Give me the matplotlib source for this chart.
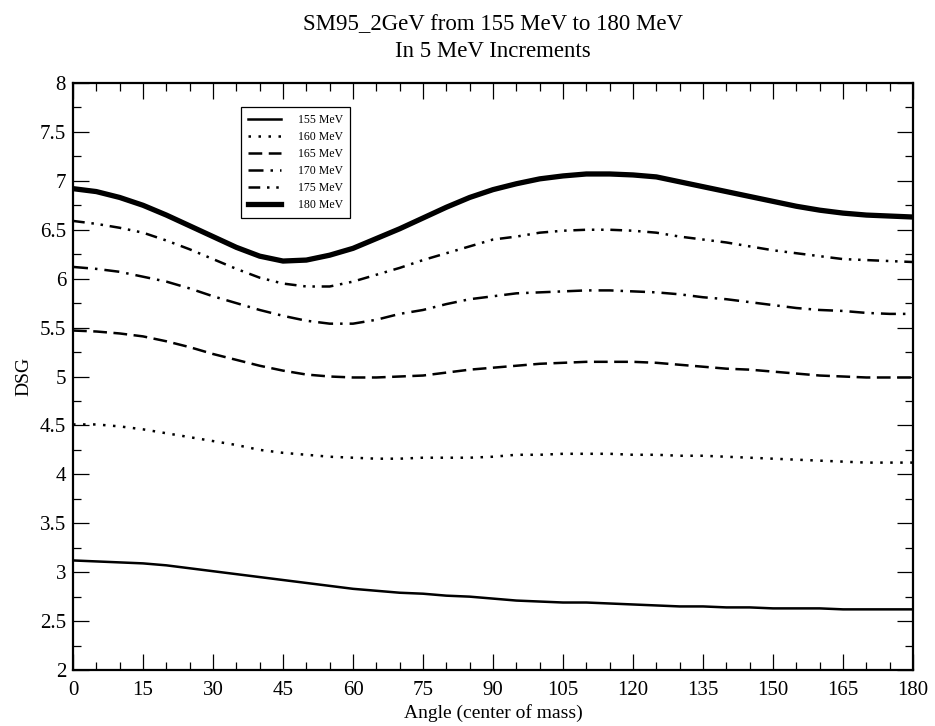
import matplotlib
matplotlib.use("Agg")
import matplotlib.pyplot as plt
from matplotlib.ticker import MultipleLocator, FuncFormatter

plt.rcParams['font.family'] = ['Liberation Serif', 'DejaVu Serif']

angles = [0, 5, 10, 15, 20, 25, 30, 35, 40, 45, 50, 55, 60, 65, 70, 75, 80, 85, 90,
          95, 100, 105, 110, 115, 120, 125, 130, 135, 140, 145, 150, 155, 160, 165,
          170, 175, 180]

dsg_155 = [3.12, 3.11, 3.10, 3.09, 3.07, 3.04, 3.01, 2.98, 2.95, 2.92, 2.89, 2.86, 2.83,
           2.81, 2.79, 2.78, 2.76, 2.75, 2.73, 2.71, 2.70, 2.69, 2.69, 2.68, 2.67, 2.66,
           2.65, 2.65, 2.64, 2.64, 2.63, 2.63, 2.63, 2.62, 2.62, 2.62, 2.62]
dsg_160 = [4.51, 4.51, 4.49, 4.46, 4.42, 4.38, 4.34, 4.30, 4.25, 4.22, 4.20, 4.18, 4.17,
           4.16, 4.16, 4.17, 4.17, 4.17, 4.18, 4.20, 4.20, 4.21, 4.21, 4.21, 4.20, 4.20,
           4.19, 4.19, 4.18, 4.17, 4.16, 4.15, 4.14, 4.13, 4.12, 4.12, 4.12]
dsg_165 = [5.47, 5.46, 5.44, 5.41, 5.36, 5.30, 5.23, 5.17, 5.11, 5.06, 5.02, 5.00, 4.99,
           4.99, 5.00, 5.01, 5.04, 5.07, 5.09, 5.11, 5.13, 5.14, 5.15, 5.15, 5.15, 5.14,
           5.12, 5.10, 5.08, 5.07, 5.05, 5.03, 5.01, 5.00, 4.99, 4.99, 4.99]
dsg_170 = [6.12, 6.10, 6.07, 6.02, 5.97, 5.90, 5.82, 5.75, 5.68, 5.62, 5.57, 5.54, 5.54,
           5.58, 5.64, 5.68, 5.74, 5.79, 5.82, 5.85, 5.86, 5.87, 5.88, 5.88, 5.87, 5.86,
           5.84, 5.81, 5.79, 5.76, 5.73, 5.70, 5.68, 5.67, 5.65, 5.64, 5.64]
dsg_175 = [6.59, 6.56, 6.52, 6.47, 6.39, 6.30, 6.20, 6.10, 6.01, 5.95, 5.92, 5.92, 5.97,
           6.04, 6.11, 6.19, 6.26, 6.33, 6.40, 6.43, 6.47, 6.49, 6.50, 6.50, 6.49, 6.47,
           6.43, 6.40, 6.37, 6.33, 6.29, 6.26, 6.23, 6.20, 6.19, 6.18, 6.17]
dsg_180 = [6.92, 6.89, 6.83, 6.75, 6.65, 6.54, 6.43, 6.32, 6.23, 6.18, 6.19, 6.24, 6.31,
           6.41, 6.51, 6.62, 6.73, 6.83, 6.91, 6.97, 7.02, 7.05, 7.07, 7.07, 7.06, 7.04,
           6.99, 6.94, 6.89, 6.84, 6.79, 6.74, 6.70, 6.67, 6.65, 6.64, 6.63]

labels = ["155 MeV", "160 MeV", "165 MeV", "170 MeV", "175 MeV", "180 MeV"]
series = [dsg_155, dsg_160, dsg_165, dsg_170, dsg_175, dsg_180]
styles = ["-", (0, (1, 3)), (0, (5.5, 2.6)), (0, (6, 2.8, 1, 2.8)),
          (0, (4.7, 2.7, 1, 2.7, 1, 2.7)), "-"]
widths = [1.8, 1.8, 1.8, 1.8, 1.8, 3.8]

fig = plt.figure(figsize=(9.35, 7.26), dpi=100)
ax = fig.add_axes([0.0781, 0.0771, 0.8984, 0.8086])

for y, lab, ls, lw in zip(series, labels, styles, widths):
    ax.plot(angles, y, color="black", linestyle=ls, linewidth=lw, label=lab,
            solid_joinstyle="round")

ax.set_xlim(0, 180)
ax.set_ylim(2, 8)
ax.xaxis.set_major_locator(MultipleLocator(15))
ax.xaxis.set_minor_locator(MultipleLocator(5))
ax.yaxis.set_major_locator(MultipleLocator(0.5))
ax.yaxis.set_minor_locator(MultipleLocator(0.25))
ax.yaxis.set_major_formatter(FuncFormatter(lambda v, p: f"{v:g}"))

ax.tick_params(which="both", direction="in", top=True, right=True, width=0.9, color="black")
ax.tick_params(which="major", length=11.5, labelsize=15)
ax.tick_params(axis="x", which="major", pad=8)
ax.tick_params(axis="y", which="major", pad=5)
ax.tick_params(which="minor", length=5.8)
for s in ax.spines.values():
    s.set_linewidth(1.6)

ax.set_xlabel("Angle (center of mass)", fontsize=14, labelpad=3)
ax.set_ylabel("DSG", fontsize=14, labelpad=5)

fig.text(0.527, 0.9587, "SM95_2GeV from 155 MeV to 180 MeV", ha="center", va="baseline", fontsize=16.5)
fig.text(0.527, 0.9215, "In 5 MeV Increments", ha="center", va="baseline", fontsize=16.5)

leg = ax.legend(loc="upper left", bbox_to_anchor=(0.2, 0.959), fontsize=8.5,
                frameon=True, fancybox=False, edgecolor="black", framealpha=1,
                handlelength=2.8, handletextpad=1.4, labelspacing=0.42,
                borderpad=0.6, borderaxespad=0)
leg.get_frame().set_linewidth(0.9)

fig.savefig("out.png", dpi=100)
